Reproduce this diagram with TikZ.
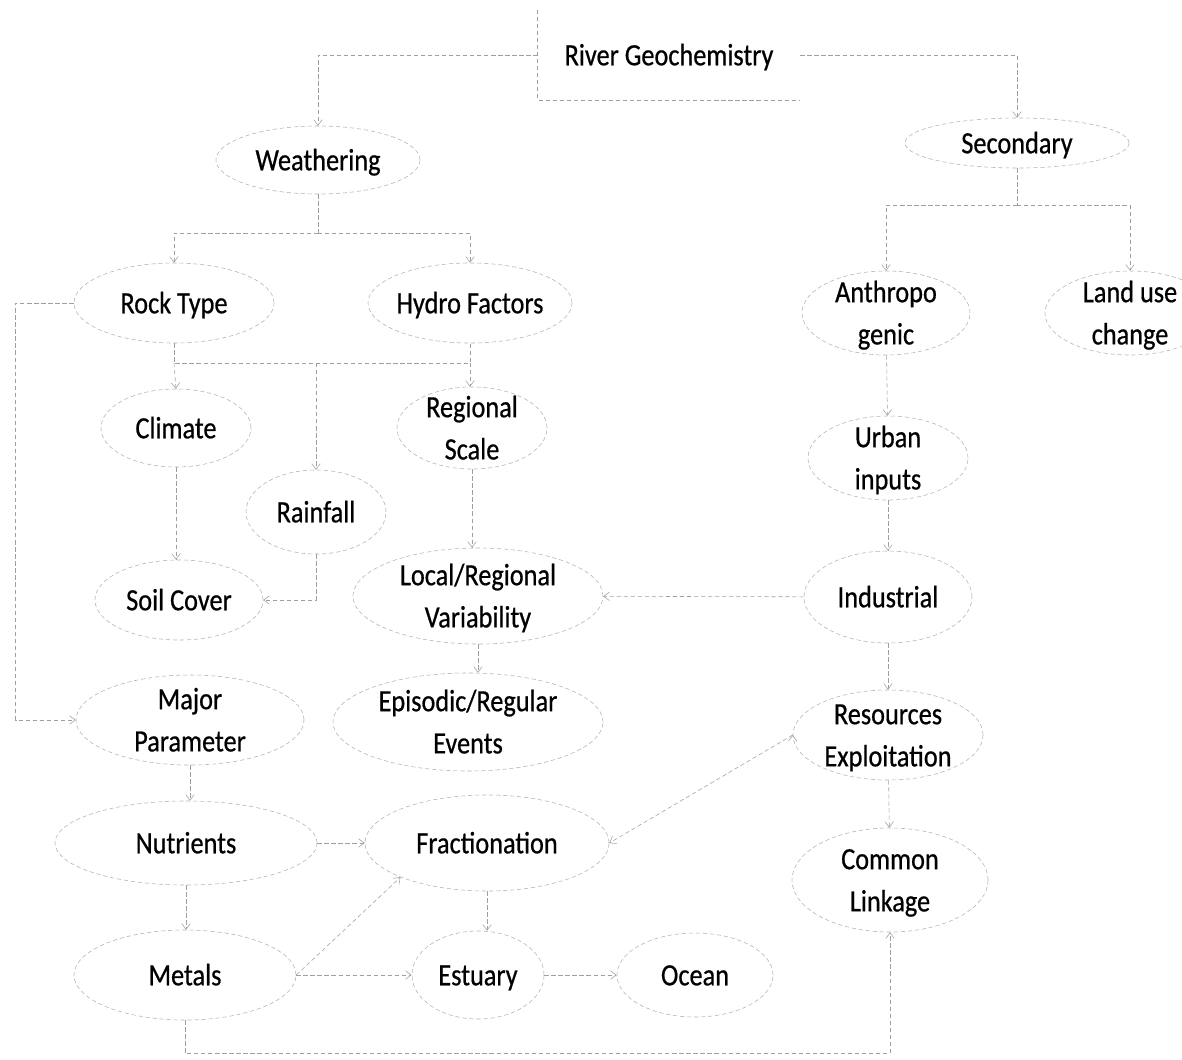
\documentclass[tikz,border=0pt]{standalone}
\usepackage{fontspec}
\setmainfont{Carlito}[FakeStretch=0.85, FakeBold=0.6]
\usetikzlibrary{shapes.geometric, arrows.meta}

\newcommand{\tx}[1]{\smash{\makebox[0pt]{\raisebox{-6.5pt}{\begin{tabular}{@{}c@{}}#1\end{tabular}}}}}

\tikzset{
  bub/.style 2 args={ellipse, draw=gray!60, densely dashed, inner sep=0pt, minimum width=#1, minimum height=#2},
  link/.style={-{Straight Barb[length=4pt, width=6pt]}, draw=gray!75, densely dashed},
  line/.style={draw=gray!75, densely dashed},
}

\begin{document}
\begin{tikzpicture}[x=0.025cm, y=-0.025cm, font=\fontsize{22}{30}\selectfont]
        \useasboundingbox (0, 0) rectangle (1182, 1059);

        \node[minimum width=6.55cm, minimum height=2.25cm, inner sep=0pt] at (669, 55)(river){\tx{River Geochemistry}};
        \draw[line] (river.north west) -- (river.south west) -- (river.south east);

        \node[bub={5.1cm}{1.7cm}] at (318, 160)(weath){\tx{Weathering}};
        \node[bub={5.6cm}{1.25cm}] at (1017, 143)(second){\tx{Secondary}};
        \node[bub={5.0cm}{2.0cm}] at (174, 303)(rock){\tx{Rock Type}};
        \node[bub={5.1cm}{2.0cm}] at (470, 303)(hydro){\tx{Hydro Factors}};
        \node[bub={3.75cm}{1.95cm}] at (176, 428)(climate){\tx{Climate}};
        \node[bub={3.75cm}{2.05cm}] at (472, 428)(regional){\tx{Regional\\Scale}};
        \node[bub={3.5cm}{2.1cm}] at (316, 512)(rainfall){\tx{Rainfall}};
        \node[bub={4.2cm}{2.0cm}] at (179, 600)(soil){\tx{Soil Cover}};
        \node[bub={6.25cm}{2.4cm}] at (478, 596)(local){\tx{Local/Regional\\Variability}};
        \node[bub={6.75cm}{2.45cm}] at (468, 722)(episodic){\tx{Episodic/Regular\\Events}};
        \node[bub={5.7cm}{2.25cm}] at (190, 720)(major){\tx{Major\\Parameter}};
        \node[bub={6.55cm}{2.1cm}] at (186, 843)(nutr){\tx{Nutrients}};
        \node[bub={6.1cm}{2.4cm}] at (487, 843)(fract){\tx{Fractionation}};
        \node[bub={5.55cm}{2.25cm}] at (185, 975)(metals){\tx{Metals}};
        \node[bub={3.3cm}{2.2cm}] at (478, 975)(estuary){\tx{Estuary}};
        \node[bub={3.9cm}{2.1cm}] at (695, 975)(ocean){\tx{Ocean}};
        \node[bub={4.2cm}{2.1cm}] at (886, 313)(anthro){\tx{Anthropo\\genic}};
        \node[bub={4.25cm}{2.1cm}] at (1130, 313)(landuse){\tx{Land use\\change}};
        \node[bub={4.0cm}{2.1cm}] at (888, 458)(urban){\tx{Urban\\inputs}};
        \node[bub={4.2cm}{2.3cm}] at (888, 597)(indus){\tx{Industrial}};
        \node[bub={4.75cm}{2.25cm}] at (888, 735)(resource){\tx{Resources\\Exploitation}};
        \node[bub={4.9cm}{2.6cm}] at (890, 880)(common){\tx{Common\\Linkage}};

        \coordinate (wbar) at (318, 233);
        \coordinate (rbar) at (316, 363);
        \coordinate (sbar) at (1017, 205);

        \draw[link] (river.west) -| (weath.north);
        \draw[link] (river.east) -| (second.north);
        \draw[line] (weath.south) -- (wbar);
        \draw[link] (wbar) -| (rock.north);
        \draw[link] (wbar) -| (hydro.north);
        \draw[line] (rock.south) |- (rbar) -| (hydro.south);
        \draw[line] (second.south) -- (sbar);
        \draw[link] (sbar) -| (anthro.north);
        \draw[link] (sbar) -| (landuse.north);
        \draw[link] (rainfall.south) |- (soil.east);
        \draw[link] (rock.west) -- ++(-58, 0) |- (major.west);
        \draw[link] (metals.south) -- ++(0, 33) -| (common.south);

        \path[link]
        (rbar -| rock.south)edge(climate.north)
        (rbar)edge(rainfall.north)
        (rbar -| hydro.south)edge(hydro.south |- regional.north)
        (climate.south)edge(climate.south |- soil.north)
        (regional.south)edge(regional.south |- local.north)
        (local.south)edge(local.south |- episodic.north)
        (indus)edge(local)
        (major.south)edge(major.south |- nutr.north)
        (nutr)edge(fract)
        (nutr.south)edge(nutr.south |- metals.north)
        (metals.east)edge(fract.south west)
        (metals)edge(estuary)
        (fract.south)edge(fract.south |- estuary.north)
        (estuary)edge(ocean)
        (resource.west)edge(fract.east)
        (anthro)edge(urban)
        (urban)edge(indus)
        (indus)edge(resource)
        (resource)edge(common)
        ;
    \end{tikzpicture}
\end{document}
